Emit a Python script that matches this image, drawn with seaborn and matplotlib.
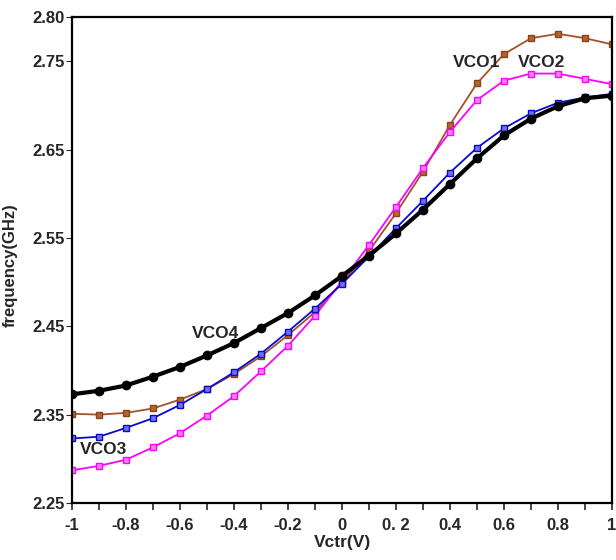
import numpy as np
import pandas as pd
import matplotlib
matplotlib.use("Agg")
import matplotlib.pyplot as plt
import seaborn as sns
from matplotlib.ticker import MultipleLocator

vctr = [-1.0, -0.9, -0.8, -0.7, -0.6, -0.5, -0.4, -0.3, -0.2, -0.1, 0.0,
        0.1, 0.2, 0.3, 0.4, 0.5, 0.6, 0.7, 0.8, 0.9, 1.0]
vco1 = [2.351, 2.350, 2.352, 2.357, 2.367, 2.379, 2.396, 2.416, 2.440, 2.466, 2.499,
        2.535, 2.578, 2.625, 2.678, 2.725, 2.758, 2.776, 2.781, 2.776, 2.769]
vco2 = [2.287, 2.292, 2.299, 2.313, 2.329, 2.349, 2.371, 2.399, 2.428, 2.462, 2.501,
        2.542, 2.585, 2.629, 2.670, 2.706, 2.728, 2.736, 2.736, 2.730, 2.724]
vco3 = [2.323, 2.325, 2.335, 2.346, 2.361, 2.379, 2.398, 2.419, 2.444, 2.470, 2.498,
        2.529, 2.561, 2.592, 2.624, 2.652, 2.674, 2.691, 2.703, 2.709, 2.713]
vco4 = [2.373, 2.377, 2.383, 2.393, 2.404, 2.417, 2.431, 2.448, 2.465, 2.485, 2.507,
        2.530, 2.555, 2.582, 2.611, 2.640, 2.666, 2.685, 2.699, 2.708, 2.711]

x_ticks = [-1, -0.8, -0.6, -0.4, -0.2, 0, 0.2, 0.4, 0.6, 0.8, 1]
x_ticklabels = ["-1", "-0.8", "-0.6", "-0.4", "-0.2", "0", "0. 2", "0.4", "0.6", "0.8", "1"]
y_ticks = [2.25, 2.35, 2.45, 2.55, 2.65, 2.75, 2.80]
y_ticklabels = ["2.25", "2.35", "2.45", "2.55", "2.65", "2.75", "2.80"]

labels = ["VCO1", "VCO2", "VCO3", "VCO4"]
label_pos = [(0.50, 2.748), (0.74, 2.748), (-0.885, 2.310), (-0.467, 2.442)]

sns.set_theme(style="white")
plt.rcParams['font.family'] = ['Liberation Sans', 'DejaVu Sans']

df = pd.DataFrame({"Vctr": vctr * 4,
                   "f": vco1 + vco2 + vco3 + vco4,
                   "vco": sum([[n] * len(vctr) for n in labels], [])})

fig = plt.figure(figsize=(6.16, 5.6), dpi=100)
ax = fig.add_axes([72 / 616, 1 - 503 / 560, (612 - 72) / 616, (503 - 17) / 560])

styles = {
    "VCO1": dict(color="#A0522D", lw=1.3, marker="s", ms=4.0, mfc="#B0643A", mec="#8B4513"),
    "VCO2": dict(color="#FF00FF", lw=1.3, marker="s", ms=4.5, mfc="#FF80FF", mec="#FF00FF"),
    "VCO3": dict(color="#0A0ACC", lw=1.3, marker="s", ms=4.5, mfc="#7070E8", mec="#0A0ACC"),
    "VCO4": dict(color="black", lw=3.0, marker="o", ms=6.0, mfc="black", mec="black"),
}
for name in labels:
    st = styles[name]
    sub = df[df["vco"] == name]
    sns.lineplot(data=sub, x="Vctr", y="f", ax=ax, color=st["color"], lw=st["lw"],
                 marker=st["marker"], markersize=st["ms"], markerfacecolor=st["mfc"],
                 markeredgecolor=st["mec"], markeredgewidth=1.0, legend=False)

for name, (lx, ly) in zip(labels, label_pos):
    ax.text(lx, ly, name, ha="center", va="center", fontsize=12.5, fontweight="bold")

ax.set_xlim(-1, 1)
ax.set_ylim(2.25, 2.80)
ax.set_xticks(x_ticks)
ax.set_xticklabels(x_ticklabels, fontsize=12, fontweight="bold")
ax.xaxis.set_minor_locator(MultipleLocator(0.1))
ax.set_yticks(y_ticks)
ax.set_yticklabels(y_ticklabels, fontsize=12, fontweight="bold")
ax.tick_params(axis="x", which="both", direction="out", length=5, width=1.2, bottom=True, pad=6)
ax.tick_params(axis="y", which="both", direction="out", length=4, width=0.8, left=True, pad=1)
for s in ax.spines.values():
    s.set_color("black")
    s.set_linewidth(1.6)
ax.set_xlabel("Vctr(V)", fontsize=12.5, fontweight="bold", labelpad=1)
ax.set_ylabel("frequency(GHz)", fontsize=12, fontweight="bold")
ax.yaxis.set_label_coords(-0.100, 0.49)
ax.grid(False)

fig.savefig("out.png", dpi=100)
